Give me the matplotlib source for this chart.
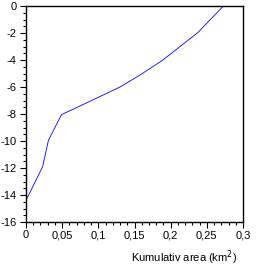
import matplotlib
matplotlib.use("Agg")
import matplotlib.pyplot as plt
from matplotlib.ticker import MultipleLocator, FuncFormatter

# kumulativ area (km2) mot djup
area = [0.0, 0.023, 0.031, 0.049, 0.075, 0.130, 0.158, 0.188, 0.213, 0.238, 0.254, 0.273]
djup = [-14.4, -11.9, -9.95, -8.05, -7.4, -6.0, -5.1, -4.05, -3.0, -1.95, -1.05, 0.0]

plt.rcParams['font.family'] = ['Liberation Sans', 'DejaVu Sans']
plt.rcParams['font.size'] = 8

fig = plt.figure(figsize=(2.63, 2.68), dpi=100)
ax = fig.add_axes([26/263, 1 - 222/268, 217/263, 216/268])

ax.plot(area, djup, color='#0000ff', lw=0.6)

ax.set_xlim(0, 0.3)
ax.set_ylim(-16, 0)
ax.xaxis.set_major_locator(MultipleLocator(0.05))
ax.xaxis.set_minor_locator(MultipleLocator(0.01))
ax.yaxis.set_major_locator(MultipleLocator(2))
ax.yaxis.set_minor_locator(MultipleLocator(0.5))

def komma(v, pos):
    s = ('%.2f' % v).rstrip('0').rstrip('.')
    if s == '-0':
        s = '0'
    return s.replace('.', ',')

ax.xaxis.set_major_formatter(FuncFormatter(komma))
ax.yaxis.set_major_formatter(FuncFormatter(komma))

ax.tick_params(which='major', length=4, width=0.8, pad=2)
ax.tick_params(which='minor', length=2.2, width=0.8)
ax.tick_params(axis='y', which='major', pad=3)
for s in ax.spines.values():
    s.set_linewidth(1.0)

ax.text(0.972, -0.165, 'Kumulativ area (km$^2$)', transform=ax.transAxes,
        ha='right', va='center', fontsize=8)

fig.savefig('out.png', dpi=100)
